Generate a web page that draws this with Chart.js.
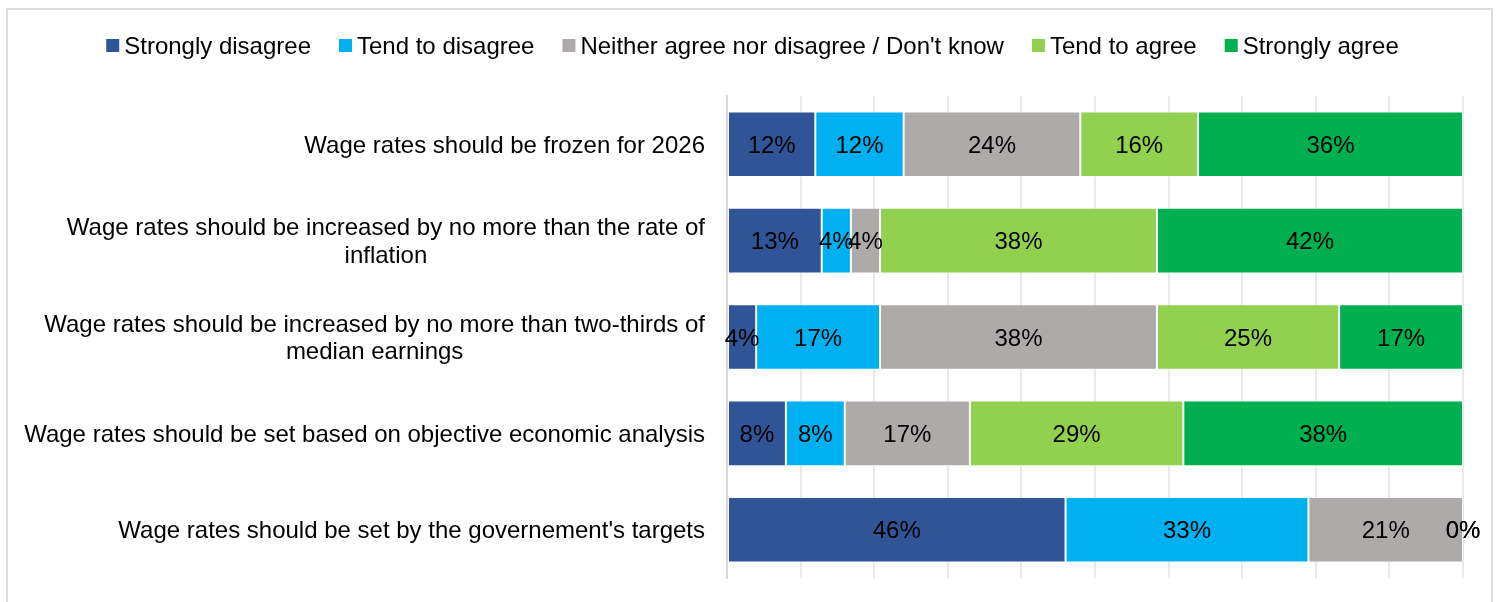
<!DOCTYPE html>
<html><head><meta charset="utf-8">
<script src="https://cdn.jsdelivr.net/npm/chart.js@4"></script>
<style>
html,body{margin:0;padding:0;background:#fff;}
#wrap{position:relative;width:1499px;height:602px;overflow:hidden;}
#frame{position:absolute;left:6px;top:8px;width:1487px;height:640px;border:2px solid #dcdcdc;box-sizing:border-box;}
canvas{position:absolute;left:0;top:0;}
</style></head>
<body><div id="wrap"><div id="frame"></div><canvas id="c" width="1499" height="602"></canvas></div>
<script>
const categories = [
  "Wage rates should be frozen for 2026",
  ["Wage rates should be increased by no more than the rate of", "inflation"],
  ["Wage rates should be increased by no more than two-thirds of", "median earnings"],
  "Wage rates should be set based on objective economic analysis",
  "Wage rates should be set by the governement's targets"
];
const seriesNames = ["Strongly disagree", "Tend to disagree", "Neither agree nor disagree / Don't know", "Tend to agree", "Strongly agree"];
const seriesColors = ["#2F5597", "#00B0F0", "#AEAAAA", "#92D050", "#00B050"];
const stronglyDisagree = [12, 13, 4, 8, 46];
const tendToDisagree   = [12, 4, 17, 8, 33];
const neitherDontKnow  = [24, 4, 38, 17, 21];
const tendToAgree      = [16, 38, 25, 29, 0];
const stronglyAgree    = [36, 42, 17, 38, 0];
const seriesValues = [stronglyDisagree, tendToDisagree, neitherDontKnow, tendToAgree, stronglyAgree];

const FONT = '"Liberation Sans", Arial, sans-serif';
const rowTotals = categories.map((_, i) => seriesValues.reduce((s, arr) => s + arr[i], 0));

const datasets = seriesNames.map((name, k) => ({
  label: name,
  raw: seriesValues[k],
  data: seriesValues[k].map((v, i) => v / rowTotals[i] * 100),
  backgroundColor: seriesColors[k],
  borderColor: 'rgba(255,255,255,0.45)',
  borderWidth: 1,
  borderSkipped: false,
  barPercentage: 0.68,
  categoryPercentage: 1
}));

const legendPlugin = {
  id: 'customLegend',
  afterDraw(chart) {
    const ctx = chart.ctx;
    ctx.save();
    ctx.font = '24px ' + FONT;
    const box = 13, gapText = 5, gapItem = 28;
    const widths = seriesNames.map(n => ctx.measureText(n).width);
    const total = widths.reduce((s, w) => s + box + gapText + w, 0) + gapItem * (seriesNames.length - 1);
    let x = (chart.width - total) / 2 + 3;
    const yc = 45.5;
    ctx.textBaseline = 'middle';
    ctx.textAlign = 'left';
    seriesNames.forEach((n, k) => {
      ctx.fillStyle = seriesColors[k];
      ctx.fillRect(x, yc - box / 2, box, box);
      ctx.fillStyle = '#000';
      ctx.fillText(n, x + box + gapText, yc + 1.5);
      x += box + gapText + widths[k] + gapItem;
    });
    ctx.restore();
  }
};

const yLabelPlugin = {
  id: 'yLabels',
  afterDraw(chart) {
    const ctx = chart.ctx, ys = chart.scales.y;
    ctx.save();
    ctx.font = '24px ' + FONT;
    ctx.fillStyle = '#000';
    ctx.textBaseline = 'middle';
    ctx.textAlign = 'center';
    categories.forEach((lab, i) => {
      const lines = Array.isArray(lab) ? lab : [lab];
      const w = Math.max(...lines.map(l => ctx.measureText(l).width));
      const cx = chart.chartArea.left - 22 - w / 2;
      const yc = ys.getPixelForValue(i) + 2;
      lines.forEach((l, j) => ctx.fillText(l, cx, yc + (j - (lines.length - 1) / 2) * 27.5));
    });
    ctx.restore();
  }
};

const dataLabelPlugin = {
  id: 'dataLabels',
  afterDatasetsDraw(chart) {
    const ctx = chart.ctx;
    ctx.save();
    ctx.font = '24px ' + FONT;
    ctx.fillStyle = '#000';
    ctx.textBaseline = 'middle';
    ctx.textAlign = 'center';
    chart.data.datasets.forEach((ds, k) => {
      const meta = chart.getDatasetMeta(k);
      meta.data.forEach((bar, i) => {
        const p = bar.getProps(['x', 'y', 'base'], true);
        ctx.fillText(ds.raw[i] + '%', (p.x + p.base) / 2, p.y + 2);
      });
    });
    ctx.restore();
  }
};

new Chart(document.getElementById('c'), {
  type: 'bar',
  data: { labels: categories, datasets },
  options: {
    indexAxis: 'y',
    responsive: false,
    animation: false,
    layout: { padding: { left: 0, right: 36, top: 96, bottom: 24 } },
    plugins: { legend: { display: false }, tooltip: { enabled: false } },
    scales: {
      x: {
        stacked: true, min: 0, max: 100,
        ticks: { display: false, stepSize: 10 },
        grid: { color: '#e9e9e9', lineWidth: 2, drawTicks: false },
        border: { display: false },
        afterFit(s) { s.height = 0; }
      },
      y: {
        stacked: true,
        ticks: { display: false },
        grid: { display: false, drawTicks: false },
        border: { display: true, color: '#d6d6d6', width: 2 },
        afterFit(s) { s.width = 727; }
      }
    }
  },
  plugins: [legendPlugin, yLabelPlugin, dataLabelPlugin]
});
</script>
</body></html>
